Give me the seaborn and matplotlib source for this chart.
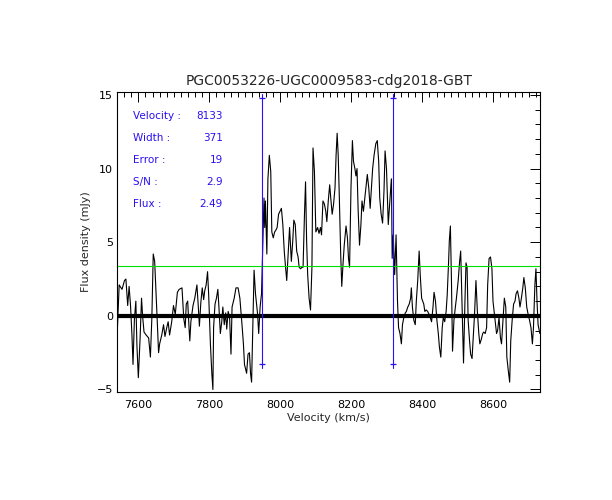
import matplotlib
matplotlib.use("Agg")
import matplotlib.pyplot as plt
import seaborn as sns
from matplotlib.ticker import MultipleLocator

# spectrum (velocity in km/s, flux density in mJy)
velocity = [7540, 7546, 7554, 7561, 7565, 7570, 7574, 7578, 7582, 7585, 7589, 7593, 7596, 7600,
            7605, 7609, 7612, 7616, 7622, 7629, 7634, 7638, 7642, 7646, 7649, 7653, 7657, 7660,
            7666, 7671, 7675, 7680, 7684, 7688, 7694, 7699,
            7704, 7710, 7715, 7723, 7728, 7732, 7735, 7739, 7743, 7745, 7748, 7754, 7759, 7765,
            7769, 7772, 7776, 7780, 7784, 7787, 7791, 7795, 7798,
            7803, 7807, 7810, 7812, 7816, 7820, 7824, 7827, 7831, 7835, 7838, 7842, 7846, 7849,
            7853, 7857, 7861, 7864, 7870, 7875, 7881, 7886, 7892, 7896, 7899,
            7905, 7909, 7913, 7916, 7919, 7923, 7926, 7930, 7936, 7939, 7943, 7947, 7950, 7954,
            7956, 7958, 7962, 7965, 7969, 7973, 7976, 7980, 7984, 7987, 7991, 7995, 7999,
            8003, 8007, 8011, 8014, 8018, 8022, 8026, 8029, 8031, 8035, 8038, 8042, 8046, 8050,
            8053, 8057, 8061, 8064, 8068, 8071, 8074, 8077, 8081, 8085, 8089, 8092, 8096, 8100,
            8105, 8109, 8113, 8116, 8120, 8124, 8128, 8131, 8135, 8139, 8142, 8146, 8150, 8154,
            8157, 8160, 8163, 8166, 8170, 8173, 8177, 8180, 8185, 8189, 8192, 8195,
            8199, 8203, 8206, 8210, 8213, 8216, 8219, 8223, 8227, 8230, 8234, 8238, 8241, 8245,
            8249, 8253, 8256, 8260, 8264, 8269, 8273, 8277, 8280, 8284, 8288, 8292, 8295, 8299,
            8304, 8307, 8311, 8313, 8315, 8318, 8322, 8326, 8330, 8333, 8337, 8341, 8344, 8348,
            8352, 8355, 8359, 8363, 8367, 8369, 8372, 8376, 8380, 8383, 8387, 8391, 8394, 8398,
            8404, 8407, 8411, 8415, 8419, 8422, 8426, 8430, 8433, 8437, 8441, 8445, 8448, 8452,
            8456, 8459, 8463, 8467, 8470, 8474, 8476, 8479, 8482, 8485, 8489, 8493, 8496,
            8501, 8505, 8508, 8512, 8516, 8520, 8523, 8526, 8529, 8533, 8536, 8540, 8544, 8547,
            8551, 8555, 8559, 8562, 8566, 8570, 8573, 8577, 8581, 8584, 8588, 8592, 8596, 8599,
            8605, 8609, 8612, 8616, 8620, 8623, 8627, 8631, 8635, 8638, 8642, 8646, 8649, 8653,
            8657, 8661, 8664, 8668, 8672, 8675, 8679, 8683, 8686, 8690, 8694, 8698,
            8702, 8706, 8710, 8713, 8717, 8720, 8723, 8726, 8731]
flux = [-1.5, 2.1, 1.8, 2.4, 2.5, 0.7, 2.0, 0.7, -1.3, -3.3, -0.2, 1.0, -2.0, -4.2,
        -1.5, 1.2, 0.0, -1.1, -1.3, -1.5, -2.8, -0.2, 4.2, 3.7, 2.1, -0.2, -2.5, -1.9,
        -1.3, -0.6, -1.4, -0.8, -0.4, -1.3, -0.4, 0.7,
        0.1, 1.6, 1.8, 1.9, -0.2, -0.8, 0.8, 1.0, -0.9, -1.7, -0.4, 0.7, 1.2, 2.1,
        0.6, -0.7, 0.9, 1.9, 1.1, 1.7, 2.1, 3.0, 1.5,
        -1.9, -3.9, -5.0, -0.8, 0.8, 1.2, 1.8, 0.6, -1.2, -0.4, 0.6, -0.6, 0.2, -0.9,
        0.3, -0.1, -2.6, 0.6, 1.2, 1.9, 1.9, 1.2, -0.6, -1.9, -3.3,
        -3.9, -2.6, -2.5, -3.9, -4.5, -0.1, 3.1, 1.5, 0.1, -1.2, 0.6, 1.5, 4.4, 8.0,
        6.0, 7.8, 4.2, 9.3, 10.9, 9.8, 5.7, 5.3, 5.7, 5.8, 6.0, 6.9, 7.1,
        7.3, 6.2, 4.4, 3.5, 2.4, 4.2, 6.0, 4.6, 3.7, 5.1, 6.5, 6.2, 4.4, 4.0,
        3.3, 3.2, 3.3, 3.3, 6.9, 9.1, 5.1, 2.8, 1.2, 0.4, 3.3, 11.4, 9.8, 5.7,
        6.0, 5.6, 6.0, 5.5, 7.8, 7.6, 7.1, 6.4, 7.8, 8.9, 8.0, 6.9, 7.6, 8.7,
        10.9, 12.4, 10.9, 8.2, 4.2, 2.0, 3.7, 4.8, 6.1, 5.3, 3.9, 3.3,
        8.7, 11.9, 10.5, 10.0, 9.5, 10.0, 7.3, 4.8, 6.2, 7.8, 7.1, 8.0, 8.7, 9.6,
        8.7, 7.3, 8.5, 10.0, 10.9, 11.7, 11.9, 10.5, 8.0, 6.9, 6.3, 8.5, 11.2, 10.0,
        6.2, 7.3, 8.7, 9.3, 3.9, 5.5, 2.8, 5.5, 1.0, -0.8, -1.2, -1.9, -0.6, -0.1,
        0.2, 0.3, 0.6, 0.8, 1.2, 1.9, 0.6, -0.3, -0.6, 1.0, 2.4, 4.4, 2.8, 1.2,
        0.8, 0.3, 0.4, 0.3, 0.1, -0.1, -0.4, 0.6, 1.6, 1.0, -0.3, -1.2, -2.1, -2.8,
        -0.8, -0.1, -0.4, 0.3, 1.4, 3.7, 5.1, 6.1, 2.4, -2.4, -0.3, 0.6, 1.2,
        2.4, 3.7, 4.4, 0.6, -3.2, 1.0, 3.6, 3.3, -0.3, -1.7, -2.6, -2.9, -1.2, 0.1,
        2.4, 0.3, -1.2, -1.9, -1.6, -1.2, -1.1, -1.2, -0.8, 2.1, 3.9, 4.0, 3.2, 1.0,
        -0.3, -1.2, -1.0, -0.1, -1.5, -1.9, -0.3, 1.2, 0.6, -2.8, -3.7, -4.5, -1.7, -0.3,
        0.8, 1.0, 1.5, 1.7, 1.2, 0.6, 1.2, 1.9, 2.6, 1.9, 0.6, 0.1,
        -0.3, -0.8, -1.9, -0.8, 2.1, 3.2, 1.0, -0.6, -1.2]

title = "PGC0053226-UGC0009583-cdg2018-GBT"
stat_names = ["Velocity :", "Width :", "Error :", "S/N :", "Flux :"]
stat_values = ["8133", "371", "19", "2.9", "2.49"]
v_center = 8133
v_width = 371
line_top = 14.8
line_bottom = -3.3
green_level = 3.4

sns.set_style("white")
plt.rcParams["font.family"] = ["DejaVu Sans"]

fig = plt.figure(figsize=(6.12, 5.0), dpi=100)
ax = fig.add_axes([0.1917, 0.2166, 0.6907, 0.5994])

sns.lineplot(x=velocity, y=flux, ax=ax, color="black", linewidth=0.8,
             sort=False, estimator=None)
ax.axhline(0, color="black", linewidth=3)
ax.axhline(green_level, color="#00e000", linewidth=0.8)

# edges of the line window, with small crosses at both ends
blue = "#2a10f0"
for v in [v_center - v_width / 2, v_center + v_width / 2]:
    ax.plot([v, v], [line_bottom - 0.25, line_top + 0.25], color=blue, linewidth=0.8)
    ax.plot([v, v], [line_bottom, line_top], color=blue, linestyle="none",
            marker="_", markersize=5, markeredgewidth=0.9)

ax.set_xlim(7540.8, 8731.5)
ax.set_ylim(-5.15, 15.2)
ax.xaxis.set_major_locator(MultipleLocator(200))
ax.xaxis.set_minor_locator(MultipleLocator(20))
ax.yaxis.set_major_locator(MultipleLocator(5))
ax.yaxis.set_minor_locator(MultipleLocator(1))
ax.tick_params(which="both", direction="in", top=True, right=True,
               labelsize=8, colors="black")
ax.tick_params(axis="x", pad=6)
ax.tick_params(axis="y", pad=3)
ax.tick_params(which="major", length=7, width=0.7)
ax.tick_params(which="minor", length=3.5, width=0.7)
for s in ax.spines.values():
    s.set_color("black")
    s.set_linewidth(0.8)

ax.set_xlabel("Velocity (km/s)", fontsize=8, labelpad=2)
ax.set_ylabel("Flux density (mJy)", fontsize=8, labelpad=4)
ax.set_title(title, fontsize=10, pad=5)

for i, (name, val) in enumerate(zip(stat_names, stat_values)):
    y = 116 + 22 * i
    fig.text(133 / 612, 1 - y / 500, name, color=blue, fontsize=7.5, va="center", ha="left")
    fig.text(223 / 612, 1 - y / 500, val, color=blue, fontsize=7.5, va="center", ha="right")

fig.savefig("out.png", dpi=100, facecolor="white")
